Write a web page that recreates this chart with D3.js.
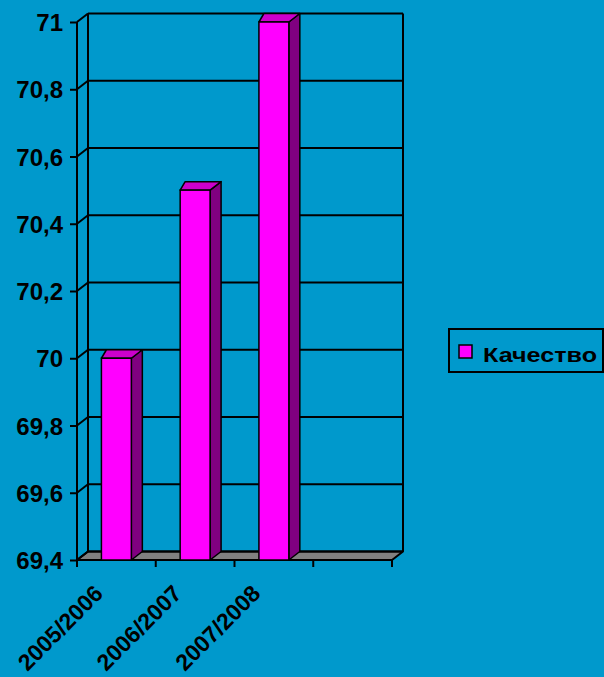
<!DOCTYPE html>
<html><head><meta charset="utf-8">
<script src="https://cdn.jsdelivr.net/npm/d3@7"></script>
<style>html,body{margin:0;padding:0;background:#0099CC;overflow:hidden}svg{display:block}</style>
</head><body>
<svg id="c" width="604" height="677"></svg>
<script>
const categories = ["2005/2006", "2006/2007", "2007/2008", ""];
const values = [70, 70.5, 71, null];
const seriesName = "Качество";
const yTicks = [69.4, 69.6, 69.8, 70, 70.2, 70.4, 70.6, 70.8, 71];

const svg = d3.select("#c");
const W = 604, H = 677;
svg.append("rect").attr("width", W).attr("height", H).attr("fill", "#0099CC");

const DX = 11, DY = -8.5;
const x = d3.scaleBand().domain(categories).range([77, 392]).padding(0);
const y = d3.scaleLinear().domain([69.4, 71]).range([560, 22]);
const fmt = v => d3.format(".1f")(v).replace(/\.0$/, "").replace(".", ",");
const font = "'Liberation Sans', Arial, sans-serif";

const g = svg.append("g");
const x0 = x.range()[0], x1 = x.range()[1];
const yTop = y(71), yBot = y(69.4);

// floor
g.append("path")
  .attr("d", `M${x0},${yBot}L${x0+DX},${yBot+DY}L${x1+DX},${yBot+DY}L${x1},${yBot}Z`)
  .attr("fill", "#808080").attr("stroke", "#000").attr("stroke-width", 2).attr("stroke-linejoin", "round");

// back wall gridlines
g.selectAll("line.grid").data(yTicks).join("line").attr("class", "grid")
  .attr("x1", x0 + DX).attr("x2", x1 + DX)
  .attr("y1", d => y(d) + DY).attr("y2", d => y(d) + DY)
  .attr("stroke", "#000").attr("stroke-width", 2);
// side wall lines
g.selectAll("line.side").data(yTicks).join("line").attr("class", "side")
  .attr("x1", x0).attr("x2", x0 + DX)
  .attr("y1", d => y(d)).attr("y2", d => y(d) + DY)
  .attr("stroke", "#000").attr("stroke-width", 2);
// back wall verticals
[x0 + DX, x1 + DX].forEach(xx => g.append("line")
  .attr("x1", xx).attr("x2", xx).attr("y1", yTop + DY).attr("y2", yBot + DY)
  .attr("stroke", "#000").attr("stroke-width", 2));
// front y axis line
g.append("line").attr("x1", x0).attr("x2", x0).attr("y1", yTop).attr("y2", yBot)
  .attr("stroke", "#000").attr("stroke-width", 2);

// y axis ticks and labels
const yAxis = d3.axisLeft(y).tickValues(yTicks).tickFormat(fmt).tickSize(7).tickPadding(8);
const ya = g.append("g").attr("transform", `translate(${x0},0)`).call(yAxis);
ya.select(".domain").remove();
ya.selectAll(".tick line").attr("stroke", "#000").attr("stroke-width", 2);
ya.selectAll(".tick text").attr("fill", "#000").attr("x", -14).attr("dy", "0.36em")
  .style("font", `bold 24px ${font}`);

// x axis ticks (at category boundaries)
const bounds = d3.range(categories.length + 1).map(i => x0 + i * x.step());
g.selectAll("line.xt").data(bounds).join("line").attr("class", "xt")
  .attr("x1", d => d).attr("x2", d => d).attr("y1", yBot).attr("y2", yBot + 7)
  .attr("stroke", "#000").attr("stroke-width", 2);

// bars
const bw = x.bandwidth() * 0.38;
const bars = categories.map((c, i) => ({c, v: values[i]})).filter(d => d.v != null);
bars.forEach(d => {
  const bx0 = x(d.c) + (x.bandwidth() - bw) / 2, bx1 = bx0 + bw;
  const t = y(d.v);
  g.append("path").attr("d", `M${bx1},${t}L${bx1+DX},${t+DY}L${bx1+DX},${yBot+DY}L${bx1},${yBot}Z`)
    .attr("fill", "#800080").attr("stroke", "#000").attr("stroke-width", 1.5).attr("stroke-linejoin", "round");
  g.append("path").attr("d", `M${bx0},${t}L${bx0+5},${t+DY}L${bx1+DX},${t+DY}L${bx1},${t}Z`)
    .attr("fill", "#CC00CC").attr("stroke", "#000").attr("stroke-width", 1.5).attr("stroke-linejoin", "round");
  g.append("rect").attr("x", bx0).attr("y", t).attr("width", bw).attr("height", yBot - t)
    .attr("fill", "#FF00FF").attr("stroke", "#000").attr("stroke-width", 1.5);
});

// x labels
g.selectAll("text.xl").data(categories.filter(c => c)).join("text").attr("class", "xl")
  .attr("transform", d => `translate(${x(d) + x.bandwidth()/2 - 12},${yBot + 35}) rotate(-45)`)
  .attr("text-anchor", "end")
  .style("font", `bold 23px ${font}`).attr("fill", "#000")
  .text(d => d);

// legend
const lg = svg.append("g");
lg.append("rect").attr("x", 449).attr("y", 329).attr("width", 154).attr("height", 43)
  .attr("fill", "none").attr("stroke", "#000").attr("stroke-width", 2);
lg.append("rect").attr("x", 459).attr("y", 345).attr("width", 13).attr("height", 13)
  .attr("fill", "#FF00FF").attr("stroke", "#000").attr("stroke-width", 1.5);
lg.append("text").attr("x", 483).attr("y", 362).text(seriesName)
  .attr("textLength", 114).attr("lengthAdjust", "spacingAndGlyphs")
  .style("font", `bold 20px ${font}`).attr("fill", "#000");
</script>
</body></html>
